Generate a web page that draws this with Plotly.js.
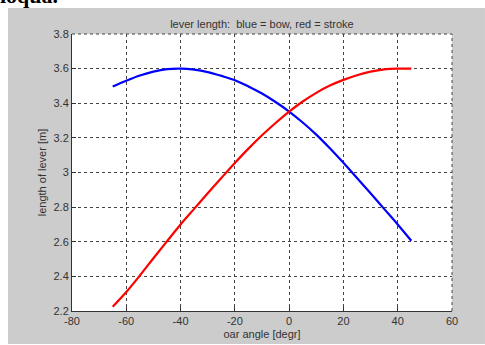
<!DOCTYPE html>
<html>
<head>
<meta charset="utf-8">
<script src="https://cdn.plot.ly/plotly-3.0.1.min.js"></script>
<style>html,body{margin:0;padding:0;background:#fff;}#chart{width:485px;height:345px;}</style>
</head>
<body>
<div id="chart"></div>
<script>
// Oar angle [degr]
var oarAngle = [-65, -60, -55, -50, -45, -40, -35, -30, -25, -20, -15, -10, -5, 0, 5, 10, 15, 20, 25, 30, 35, 40, 45];
// Lever length, bow (blue) [m]
var bowLever = [3.497, 3.530, 3.560, 3.583, 3.597, 3.600, 3.594, 3.580, 3.558, 3.533, 3.497, 3.456, 3.407, 3.352, 3.289, 3.219, 3.140, 3.056, 2.968, 2.880, 2.790, 2.700, 2.606];
// Lever length, stroke (red) [m]
var strokeLever = [2.225, 2.310, 2.405, 2.505, 2.603, 2.700, 2.790, 2.880, 2.968, 3.055, 3.138, 3.215, 3.286, 3.352, 3.410, 3.460, 3.502, 3.535, 3.562, 3.583, 3.596, 3.600, 3.600];
var xTicks = [-80, -60, -40, -20, 0, 20, 40, 60];
var yTicks = [2.2, 2.4, 2.6, 2.8, 3, 3.2, 3.4, 3.6, 3.8];
var titleText = 'lever length:  blue = bow, red = stroke';
var xTitle = 'oar angle [degr]';
var yTitle = 'length of lever [m]';
var clippedText = 'ioqua.';

var font = {family: 'Liberation Sans, Arial, sans-serif', size: 11, color: '#333333'};

var traces = [
  {x: oarAngle, y: bowLever, type: 'scatter', mode: 'lines', line: {color: '#0000ff', width: 2.2, shape: 'spline', smoothing: 1}, hoverinfo: 'skip'},
  {x: oarAngle, y: strokeLever, type: 'scatter', mode: 'lines', line: {color: '#ff0000', width: 2.2, shape: 'spline', smoothing: 1}, hoverinfo: 'skip'}
];

var axisCommon = {
  showgrid: true, gridcolor: '#444444', griddash: 'dot', gridwidth: 1,
  zeroline: false, showline: true, linecolor: '#333333', linewidth: 1,
  ticks: 'inside', ticklen: 4, tickcolor: '#333333', tickfont: font
};

var layout = {
  width: 485, height: 345,
  margin: {l: 72, r: 33, t: 34, b: 34, pad: 0},
  paper_bgcolor: '#ffffff', plot_bgcolor: '#ffffff',
  showlegend: false,
  font: font,
  title: {text: titleText, font: {family: font.family, size: 11, color: '#333333'}, x: 0.54, xanchor: 'center', y: 0.930, yanchor: 'middle'},
  xaxis: Object.assign({}, axisCommon, {range: [-80, 60], tickmode: 'array', tickvals: xTicks, ticktext: xTicks.map(String),
    title: {text: xTitle, font: font, standoff: 4}}),
  yaxis: Object.assign({}, axisCommon, {range: [2.2, 3.8], tickmode: 'array', tickvals: yTicks, ticktext: yTicks.map(String),
    title: {text: yTitle, font: font, standoff: 4}}),
  shapes: [
    {type: 'rect', xref: 'paper', yref: 'paper', x0: -0.1684, x1: 0.0868 + 1, y0: -0.1191, y1: 1.0939, fillcolor: '#cccccc', line: {width: 0}, layer: 'below'},
    {type: 'rect', xref: 'paper', yref: 'paper', x0: 0, x1: 1, y0: 0, y1: 1, fillcolor: '#ffffff', line: {width: 0}, layer: 'below'},
    {type: 'line', xref: 'paper', yref: 'paper', x0: 0, x1: 1, y0: 1, y1: 1, line: {color: '#444444', width: 1, dash: 'dot'}},
    {type: 'line', xref: 'paper', yref: 'paper', x0: 1, x1: 1, y0: 0, y1: 1, line: {color: '#444444', width: 1, dash: 'dot'}}
  ],
  annotations: [
    {text: '<b>' + clippedText + '</b>', xref: 'paper', yref: 'paper', x: -0.195, y: 1.0884, xanchor: 'left', yanchor: 'bottom', showarrow: false,
     font: {family: 'Liberation Serif, Times New Roman, serif', size: 22, color: '#000000'}}
  ]
};

Plotly.newPlot('chart', traces, layout, {displayModeBar: false, staticPlot: true});
</script>
</body>
</html>
